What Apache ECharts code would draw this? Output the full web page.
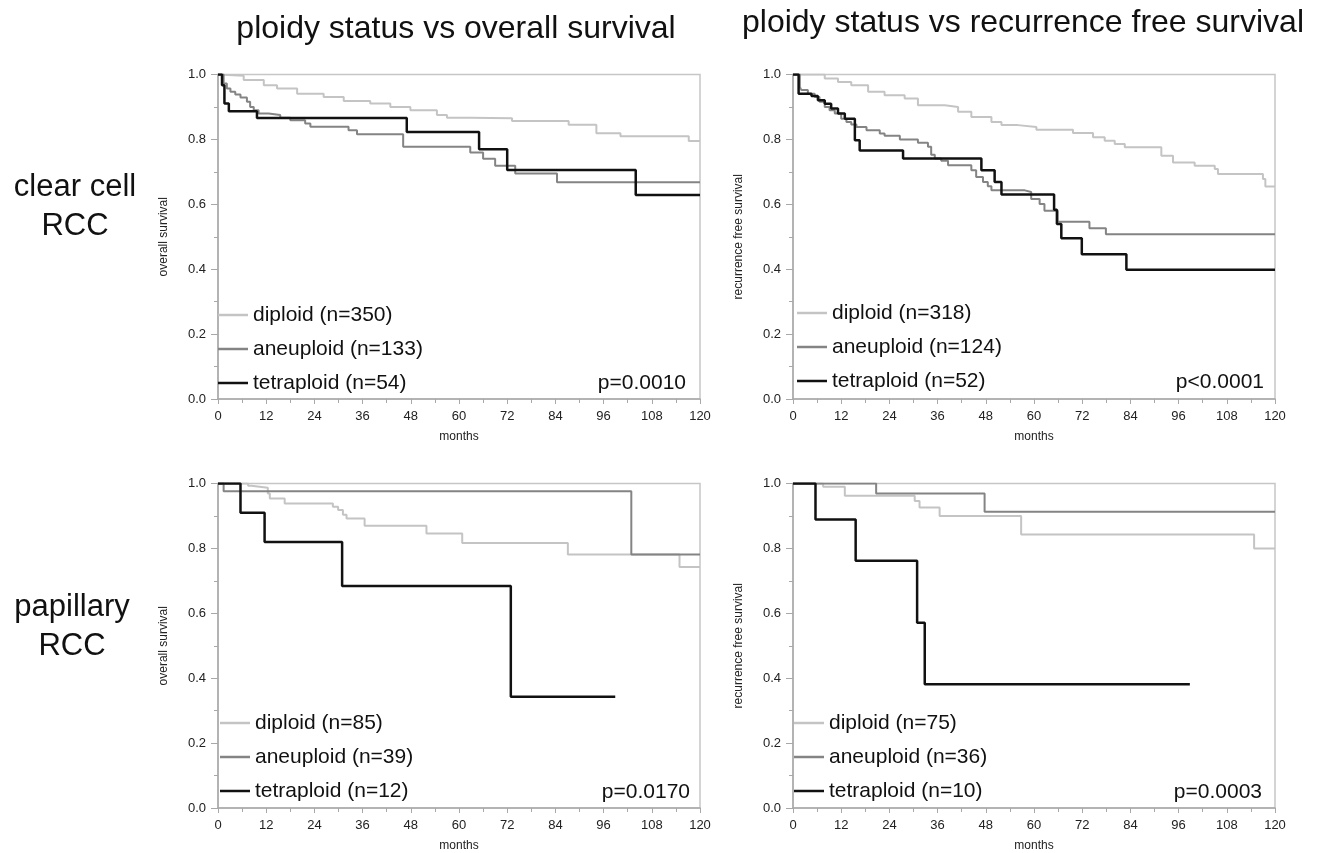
<!DOCTYPE html>
<html>
<head>
<meta charset="utf-8">
<script src="https://cdn.jsdelivr.net/npm/echarts@6/dist/echarts.min.js"></script>
<style>
html, body { margin: 0; padding: 0; background: #fff; }
#main { width: 1320px; height: 853px; }
</style>
</head>
<body>
<div id="main"></div>
<script>
// KM curves, [months, survival] — each point is where the step drops
var ccOsDiploid = [[0,1],[0.4,0.996],[6.4,0.983],[11.4,0.967],[14.7,0.957],[19.7,0.941],[26.3,0.931],[31.3,0.918],[37.9,0.911],[42.9,0.900],[47.9,0.890],[54.5,0.875],[57,0.867],[62.8,0.865],[73.2,0.857],[87.3,0.845],[94.2,0.819],[100.2,0.810],[117.2,0.795],[120,0.795]];
var ccOsAneuploid = [[0,1],[1.4,0.972],[2.2,0.957],[3.1,0.947],[4.3,0.938],[5.6,0.929],[7.2,0.916],[8,0.900],[8.9,0.890],[10.1,0.880],[12.6,0.875],[15.5,0.867],[18,0.859],[21.7,0.849],[23,0.839],[32.5,0.828],[34.6,0.816],[46.1,0.777],[62.8,0.760],[66,0.740],[69,0.719],[74,0.695],[84.4,0.668],[120,0.668]];
var ccOsTetraploid = [[0,1],[1,0.967],[1.6,0.911],[2.7,0.887],[9.7,0.866],[47,0.823],[65,0.770],[72,0.706],[104,0.629],[120,0.629]];

var ccRfsDiploid = [[0,1],[7.9,0.988],[11.2,0.977],[14.5,0.967],[18.7,0.947],[22.8,0.936],[27.8,0.926],[31.1,0.905],[37.8,0.900],[41.1,0.885],[44.4,0.869],[49.4,0.854],[51.9,0.844],[56,0.838],[60.6,0.830],[69.7,0.820],[74.7,0.807],[77.6,0.796],[80.1,0.786],[82.6,0.776],[91.7,0.750],[94.6,0.729],[100,0.719],[105,0.709],[105.8,0.693],[117,0.678],[117.6,0.655],[120,0.655]];
var ccRfsAneuploid = [[0,1],[1.7,0.962],[2.1,0.952],[3.7,0.941],[5.4,0.931],[6.6,0.916],[7.9,0.900],[9.1,0.890],[10.4,0.880],[12,0.864],[13.3,0.854],[14.5,0.846],[15.8,0.838],[18.3,0.828],[21.6,0.818],[22.8,0.811],[26.6,0.800],[31.1,0.790],[33.6,0.777],[34.4,0.753],[35.3,0.741],[36.9,0.734],[38.6,0.720],[44.4,0.705],[45.6,0.684],[47.3,0.669],[48.5,0.656],[49.4,0.643],[57.7,0.638],[59.3,0.616],[61.4,0.601],[62.6,0.580],[65.9,0.546],[73.8,0.526],[77.9,0.508],[120,0.508]];
var ccRfsTetraploid = [[0,1],[1.4,0.941],[4.6,0.934],[6.2,0.921],[7.9,0.910],[9.5,0.895],[11.2,0.880],[12.9,0.864],[15.4,0.797],[16.6,0.766],[27.4,0.741],[46.9,0.705],[50.2,0.669],[51.9,0.630],[65,0.583],[65.7,0.539],[66.8,0.495],[71.9,0.446],[83,0.398],[120,0.398]];

var papOsDiploid = [[0,1],[7.5,0.993],[8.3,0.987],[12.4,0.969],[12.9,0.954],[16.6,0.938],[28.6,0.928],[29.9,0.918],[31.1,0.904],[32,0.892],[36.5,0.870],[51.9,0.846],[60.8,0.817],[87.1,0.781],[114.9,0.743],[120,0.743]];
var papOsAneuploid = [[0,1],[1.4,0.976],[102.9,0.781],[120,0.781]];
var papOsTetraploid = [[0,1],[5.6,0.910],[11.6,0.820],[30.9,0.684],[72.9,0.343],[98.9,0.343]];

var papRfsDiploid = [[0,1],[7.5,0.990],[12.9,0.962],[30.3,0.946],[31.5,0.926],[36.5,0.900],[56.8,0.843],[114.8,0.800],[120,0.800]];
var papRfsAneuploid = [[0,1],[20.7,0.969],[47.7,0.913],[120,0.913]];
var papRfsTetraploid = [[0,1],[5.6,0.889],[15.6,0.762],[30.9,0.571],[32.8,0.381],[98.8,0.381]];

var groupNames = ['diploid', 'aneuploid', 'tetraploid'];
var groupColors = ['#c4c4c4', '#848484', '#111111'];
var groupWidths = [2, 2, 2.5];

var ccOsN = [350, 133, 54];
var ccRfsN = [318, 124, 52];
var papOsN = [85, 39, 12];
var papRfsN = [75, 36, 10];

var pValues = ['p=0.0010', 'p<0.0001', 'p=0.0170', 'p=0.0003'];
var colTitles = ['ploidy status vs overall survival', 'ploidy status vs recurrence free survival'];
var rowTitles = ['clear cell\nRCC', 'papillary\nRCC'];
var yNames = ['overall survival', 'recurrence free survival'];

var FONT = '"Liberation Sans", Arial, Helvetica, sans-serif';

// 四个小图的位置
var panels = [
  { left: 218, top: 74.5, curves: [ccOsDiploid, ccOsAneuploid, ccOsTetraploid], n: ccOsN, yName: yNames[0], legendLeft: 218, legendTop: 303, pX: 686, pY: 383 },
  { left: 793, top: 74.5, curves: [ccRfsDiploid, ccRfsAneuploid, ccRfsTetraploid], n: ccRfsN, yName: yNames[1], legendLeft: 797, legendTop: 301, pX: 1264, pY: 382 },
  { left: 218, top: 483.5, curves: [papOsDiploid, papOsAneuploid, papOsTetraploid], n: papOsN, yName: yNames[0], legendLeft: 220, legendTop: 711, pX: 690, pY: 792 },
  { left: 793, top: 483.5, curves: [papRfsDiploid, papRfsAneuploid, papRfsTetraploid], n: papRfsN, yName: yNames[1], legendLeft: 794, legendTop: 711, pX: 1262, pY: 792 }
];
var W = 482, H = 324.5;

var grids = [], xAxes = [], yAxes = [], series = [], legends = [], graphics = [];

panels.forEach(function (p, i) {
  grids.push({ left: p.left, top: p.top, width: W, height: H, show: true, borderColor: '#c6c6c6', borderWidth: 1.5, backgroundColor: 'transparent' });
  xAxes.push({
    type: 'value', gridIndex: i, min: 0, max: 120, interval: 12,
    name: 'months', nameLocation: 'middle', nameGap: 32,
    nameTextStyle: { fontSize: 12, color: '#222', fontFamily: FONT },
    axisLine: { show: true, lineStyle: { color: '#a8a8a8', width: 1.5 } },
    axisTick: { show: true, length: 5, lineStyle: { color: '#a8a8a8' } },
    minorTick: { show: true, splitNumber: 2, length: 4, lineStyle: { color: '#a8a8a8' } },
    axisLabel: { fontSize: 13, color: '#222', margin: 11, fontFamily: FONT },
    splitLine: { show: false }
  });
  yAxes.push({
    type: 'value', gridIndex: i, min: 0, max: 1, interval: 0.2,
    name: p.yName, nameLocation: 'middle', nameGap: 48,
    nameTextStyle: { fontSize: 12, color: '#222', fontFamily: FONT },
    axisLine: { show: true, lineStyle: { color: '#a8a8a8', width: 1.5 } },
    axisTick: { show: true, length: 7, lineStyle: { color: '#a8a8a8' } },
    minorTick: { show: true, splitNumber: 2, length: 4, lineStyle: { color: '#a8a8a8' } },
    axisLabel: { fontSize: 13, color: '#222', margin: 12, fontFamily: FONT, formatter: function (v) { return v.toFixed(1); } },
    splitLine: { show: false }
  });
  var names = [];
  p.curves.forEach(function (c, k) {
    var nm = groupNames[k] + ' (n=' + p.n[k] + ')';
    names.push({ name: nm, itemStyle: { color: groupColors[k] } });
    series.push({
      name: nm, type: 'line', xAxisIndex: i, yAxisIndex: i,
      data: c, step: 'end', symbol: 'none', z: 2 + k,
      lineStyle: { color: groupColors[k], width: groupWidths[k] },
      itemStyle: { color: groupColors[k] },
      animation: false
    });
  });
  legends.push({
    data: names, orient: 'vertical', left: p.legendLeft, top: p.legendTop,
    padding: 0, itemGap: 10, itemWidth: 30, itemHeight: 2.5,
    icon: 'rect', selectedMode: false,
    textStyle: { fontSize: 21, color: '#111', fontFamily: FONT, lineHeight: 24 }
  });
  graphics.push({
    type: 'text', x: p.pX, y: p.pY,
    style: { text: pValues[i], font: '21px ' + FONT, fill: '#111', align: 'right', verticalAlign: 'middle' }
  });
});

graphics.push({ type: 'text', x: 456, y: 29, style: { text: colTitles[0], font: '32px ' + FONT, fill: '#111', align: 'center', verticalAlign: 'middle' } });
graphics.push({ type: 'text', x: 1023, y: 23, style: { text: colTitles[1], font: '32px ' + FONT, fill: '#111', align: 'center', verticalAlign: 'middle' } });
graphics.push({ type: 'text', x: 75, y: 207, style: { text: rowTitles[0], font: '31px ' + FONT, fill: '#111', align: 'center', verticalAlign: 'middle', lineHeight: 39 } });
graphics.push({ type: 'text', x: 72, y: 627, style: { text: rowTitles[1], font: '31px ' + FONT, fill: '#111', align: 'center', verticalAlign: 'middle', lineHeight: 39 } });

var myChart = echarts.init(document.getElementById('main'), null, { renderer: 'canvas' });
var option = {
  backgroundColor: '#fff',
  animation: false,
  grid: grids,
  xAxis: xAxes,
  yAxis: yAxes,
  legend: legends,
  series: series,
  graphic: graphics
};
option && myChart.setOption(option);
</script>
</body>
</html>
